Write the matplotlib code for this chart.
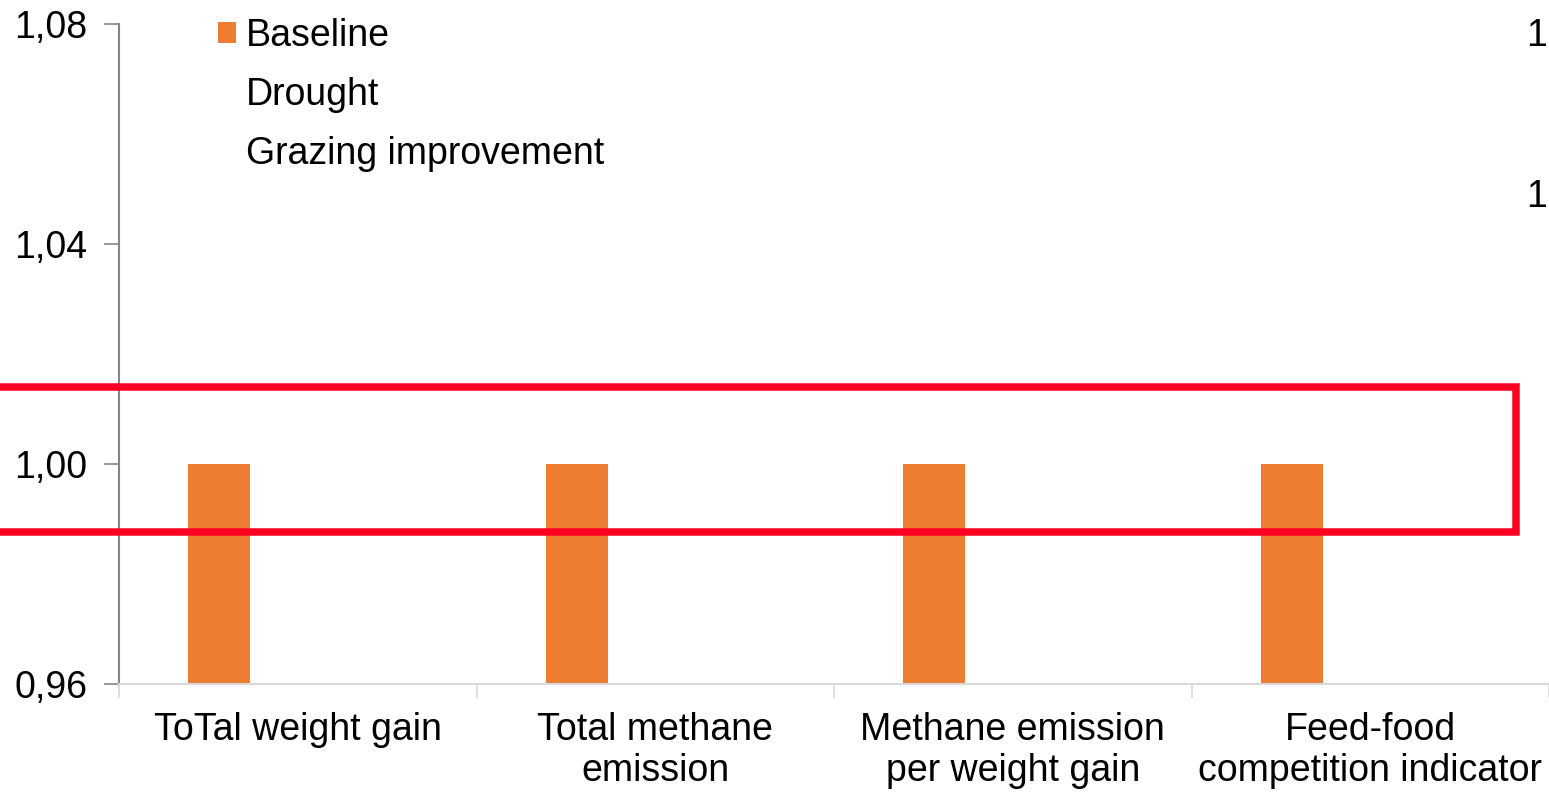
import numpy as np
import matplotlib
matplotlib.use("Agg")
import matplotlib.pyplot as plt
from matplotlib.patches import Rectangle
from matplotlib.ticker import FuncFormatter

plt.rcParams['font.family'] = ['Liberation Sans', 'DejaVu Sans']

categories = ['ToTal weight gain', 'Total methane\nemission',
              'Methane emission\nper weight gain', 'Feed-food\ncompetition indicator']
series_names = ['Baseline', 'Drought', 'Grazing improvement']
baseline = [1.00, 1.00, 1.00, 1.00]
drought = [np.nan, np.nan, np.nan, np.nan]
grazing = [np.nan, np.nan, np.nan, np.nan]
y_ticks = [0.96, 1.00, 1.04, 1.08]
right_labels = ['1', '1']

fs = 27

fig = plt.figure(figsize=(15.49, 7.93), dpi=100)
ax = fig.add_axes([119 / 1549, 109 / 793, 1 - 119 / 1549, 660 / 793])

x = np.arange(len(categories))
step = 0.22
width = 0.173
ax.bar(x - step, baseline, width, color='#ed7d31', label=series_names[0], zorder=2)
ax.bar(x, drought, width, color='none', label=series_names[1])
ax.bar(x + step, grazing, width, color='none', label=series_names[2])

ax.set_ylim(0.96, 1.08)
ax.set_xlim(-0.5, len(categories) - 0.5)
ax.set_yticks(y_ticks)
ax.yaxis.set_major_formatter(FuncFormatter(lambda v, p: f"{v:.2f}".replace('.', ',')))
ax.tick_params(axis='y', labelsize=fs, length=11, width=1.2, color='#868686', pad=12)

ax.set_xticks(x)
ax.set_xticklabels(categories, fontsize=fs, linespacing=1.2)
ax.set_xticks(np.arange(len(categories) + 1) - 0.5, minor=True)
ax.tick_params(axis='x', which='major', length=0, pad=20)
ax.tick_params(axis='x', which='minor', length=10, width=1.2, color='#d9d9d9')

for s in ['top', 'right']:
    ax.spines[s].set_visible(False)
ax.spines['left'].set_color('#868686')
ax.spines['left'].set_linewidth(1.5)
ax.spines['bottom'].set_color('#d9d9d9')
ax.spines['bottom'].set_linewidth(1.5)

ax.legend(loc='upper left', bbox_to_anchor=(0.0585, 1.032), frameon=False,
          fontsize=fs, handlelength=0.5, handleheight=0.5,
          handletextpad=0.25, labelspacing=0.62, borderaxespad=0)

# truncated secondary labels at the right edge
fig.text(1547 / 1549, 1 - 36 / 793, right_labels[0], fontsize=fs, va='center', ha='right')
fig.text(1547 / 1549, 1 - 197 / 793, right_labels[1], fontsize=fs, va='center', ha='right')

# red highlight box
fig.patches.append(Rectangle((-0.02, 1 - 532 / 793), 1516 / 1549 + 0.02, (532 - 386.5) / 793,
                             transform=fig.transFigure, fill=False,
                             edgecolor='#ff0022', linewidth=5.4, zorder=10))

fig.savefig('out.png', dpi=100)
